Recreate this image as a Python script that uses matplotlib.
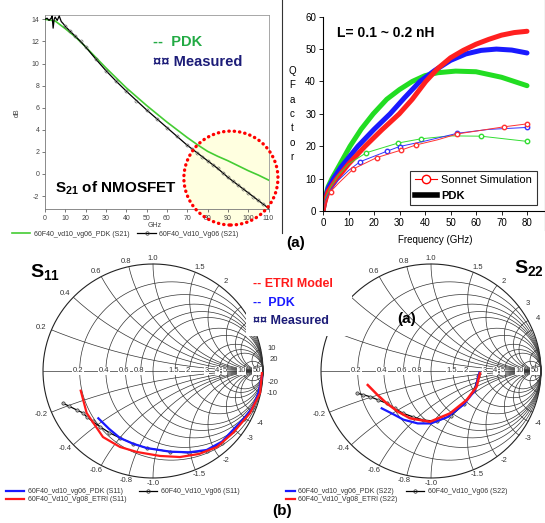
import numpy as np
import matplotlib
matplotlib.use('Agg')
import matplotlib.pyplot as plt
from matplotlib.lines import Line2D
from matplotlib.patches import Ellipse, Rectangle

plt.rcParams['font.family'] = ['Liberation Sans', 'DejaVu Sans']
plt.rcParams['mathtext.fontset'] = 'custom'
plt.rcParams['mathtext.rm'] = 'Liberation Sans'
plt.rcParams['mathtext.bf'] = 'Liberation Sans:bold'
plt.rcParams['axes.unicode_minus'] = False

W, H = 545, 523

# ---- S21 of NMOSFET (dB vs GHz) ----
s21_pdk_f = [0, 5, 10, 15, 20, 25, 30, 35, 40, 45, 50, 55, 60, 65, 70, 75, 80, 85, 90, 95, 100, 105, 110]
s21_pdk_db = [14.0, 13.85, 13.15, 12.4, 11.5, 10.55, 9.6, 8.7, 7.8, 7.0, 6.2, 5.45, 4.7, 4.0, 3.3, 2.65,
              2.05, 1.6, 1.2, 0.75, 0.3, -0.1, -0.55]
s21_meas_f = [0, 1, 2, 3, 3.5, 4, 4.5, 5, 6, 7, 8, 9, 10, 12.5, 15, 17.5, 20, 25, 30, 35, 40, 45, 50, 55,
              60, 65, 70, 72.5, 75, 77.5, 80, 82.5, 85, 87.5, 90, 92.5, 95, 97.5, 100, 102.5, 105, 107.5, 110]
s21_meas_db = [14.0, 14.1, 13.9, 14.1, 14.3, 13.2, 14.0, 14.2, 13.9, 14.3, 13.8, 13.6, 13.35, 12.9, 12.45,
               12.0, 11.5, 10.4, 9.35, 8.4, 7.5, 6.65, 5.8, 5.0, 4.2, 3.4, 2.6, 2.25, 1.9, 1.55, 1.2, 0.85,
               0.5, 0.1, -0.3, -0.65, -1.0, -1.35, -1.7, -2.05, -2.4, -2.75, -3.1]
s21_xticks = list(range(0, 111, 10))
s21_yticks = list(range(-2, 15, 2))

# ---- Q factor vs frequency ----
q_pdk_green_f = [0, 0.5, 1, 2, 3.5, 6, 10.6, 15, 19.7, 25, 30, 35, 40, 45, 52, 60, 70, 80]
q_pdk_green = [0, 2.5, 4.5, 7.5, 10, 13.5, 20, 25.3, 30, 34.5, 37.5, 40, 41.8, 42.7, 43.2, 43, 41.3, 38.7]
q_pdk_blue_f = [0, 0.5, 1, 2, 4.1, 7, 13.7, 20, 26.3, 32, 38, 44, 50, 56, 62, 68, 74, 80]
q_pdk_blue = [0, 2.3, 4, 7, 10, 13.5, 20, 25.2, 30, 35, 40, 43.5, 46.5, 48.5, 49.6, 50, 49.7, 48.8]
q_pdk_red_f = [0, 0.5, 1, 2, 5.4, 10, 16.5, 23, 29.9, 35, 40.3, 45, 50, 55, 60, 65, 70, 75, 80]
q_pdk_red = [0, 2, 3.5, 6, 10, 14.5, 20, 25, 30, 34.5, 40, 44, 47.3, 49.6, 51.5, 53, 54.3, 55.1, 55.5]

q_son_green_f = [0, 1, 3, 6, 10, 17, 29.5, 38.5, 50, 62, 80]
q_son_green = [0, 4, 7.5, 11, 14.5, 18, 21, 22.3, 23.2, 23.1, 21.5]
q_son_blue_f = [0, 1, 3, 6, 10, 14.5, 25.2, 30, 40, 52.7, 65, 80]
q_son_blue = [0, 3.5, 6.5, 9.5, 12.5, 15.2, 18.5, 19.9, 21.6, 24, 25.2, 25.8]
q_son_red_f = [0, 1, 3, 6, 11.9, 21.1, 30.6, 36.5, 45, 52.7, 71, 80]
q_son_red = [0, 3, 6, 8.5, 13, 16.5, 18.8, 20.4, 22, 23.8, 26, 26.9]
q_xticks = list(range(0, 91, 10))
q_yticks = list(range(0, 61, 10))

# ---- Smith chart traces (reflection coefficient, re / im) ----
s11_etri_re = [-0.657, -0.603, -0.455, -0.300, -0.145, 0.064, 0.245, 0.420, 0.582, 0.727, 0.882, 0.973, 0.99]
s11_etri_im = [-0.184, -0.393, -0.617, -0.710, -0.757, -0.794, -0.804, -0.775, -0.710, -0.579, -0.393, -0.206, -0.02]
s11_pdk_re = [-0.497, -0.40, -0.3, -0.18, -0.057, 0.155, 0.33, 0.488, 0.627, 0.727, 0.83, 0.91, 0.96, 0.99]
s11_pdk_im = [-0.442, -0.54, -0.626, -0.68, -0.72, -0.754, -0.76, -0.738, -0.66, -0.551, -0.44, -0.336, -0.2, -0.05]
s11_meas_re = [-0.82, -0.76, -0.694, -0.64, -0.603, -0.55, -0.482, -0.40, -0.3, -0.18, -0.057, 0.155, 0.33,
               0.488, 0.627, 0.727, 0.83, 0.91]
s11_meas_im = [-0.30, -0.33, -0.364, -0.39, -0.427, -0.47, -0.52, -0.575, -0.626, -0.68, -0.72, -0.754, -0.765,
               -0.745, -0.67, -0.56, -0.445, -0.335]

s22_etri_re = [-0.575, -0.49, -0.403, -0.30, -0.191, -0.009, 0.173, 0.324, 0.415, 0.445]
s22_etri_im = [-0.131, -0.22, -0.302, -0.38, -0.442, -0.474, -0.396, -0.271, -0.147, -0.022]
s22_pdk_re = [-0.448, -0.35, -0.25, -0.12, 0.0, 0.15, 0.30, 0.40, 0.44]
s22_pdk_im = [-0.349, -0.40, -0.455, -0.49, -0.49, -0.43, -0.31, -0.18, -0.015]
s22_meas_re = [-0.67, -0.62, -0.555, -0.48, -0.403, -0.33, -0.252, -0.16, -0.07, 0.05, 0.18, 0.30, 0.39, 0.43]
s22_meas_im = [-0.209, -0.22, -0.24, -0.27, -0.302, -0.35, -0.396, -0.43, -0.458, -0.47, -0.42, -0.31, -0.18, -0.05]

smith_r = [0.2, 0.4, 0.6, 0.8, 1, 1.5, 2, 3, 4, 5, 10, 20, 50]
smith_x = [0.2, 0.4, 0.6, 0.8, 1, 1.5, 2, 3, 4, 5, 10, 20, 50]
smith_r_labels = [0.2, 0.4, 0.6, 0.8, 1.5, 2, 3, 4, 5, 10, 50]
s11_x_labels = [0.2, 0.4, 0.6, 0.8, 1.0, 1.5, 2, 10, 20,
                -0.2, -0.4, -0.6, -0.8, -1.0, -1.5, -2, -3, -4, -10, -20]
s22_x_labels = [0.6, 0.8, 1.0, 1.5, 2, 3, 4,
                -0.2, -0.4, -0.6, -0.8, -1.0, -1.5, -2, -3, -4]

GREEN_TXT = '#22aa44'
NAVY = '#1c1c78'

fig = plt.figure(figsize=(W / 100, H / 100), dpi=100)
fig.patch.set_facecolor('white')


def add_ax(l, t, r, b):
    return fig.add_axes([l / W, 1 - b / H, (r - l) / W, (b - t) / H])


def ftext(x, y, s, **kw):
    return fig.text(x / W, 1 - y / H, s, **kw)


def fmt(v):
    if v in (1.0, -1.0):
        return '%.1f' % v
    return ('%g' % v)


# ================= S21 =================
ax1 = add_ax(45, 15, 268.5, 209)
ax1.set_xlim(0, 110)
ax1.set_ylim(-3.17, 14.39)
ax1.add_patch(Ellipse((91.5, -0.37), 46.3, 8.5, facecolor='#ffffe0', edgecolor='none', zorder=1, clip_on=False))
ax1.plot(s21_pdk_f, s21_pdk_db, color='#44cc33', lw=1.2, zorder=3)
ax1.plot(s21_meas_f, s21_meas_db, color='black', lw=0.9, marker='o', ms=2.2, mfc='none', mec='#555',
         mew=0.4, markevery=list(range(12, len(s21_meas_f))), zorder=4)
ring = Ellipse((91.5, -0.37), 46.3, 8.5, facecolor='none', edgecolor='red', lw=2.4, zorder=6, clip_on=False)
ring.set_linestyle((0, (0.1, 1.5)))
ring.set_capstyle('round')
ax1.add_patch(ring)
ax1.set_xticks(s21_xticks)
ax1.set_yticks(s21_yticks)
ax1.tick_params(labelsize=5, colors='#444', length=2, width=0.5, pad=2)
for side in ['top', 'right']:
    ax1.spines[side].set_color('#999')
for side in ['left', 'bottom']:
    ax1.spines[side].set_color('#777')
for sp in ax1.spines.values():
    sp.set_linewidth(0.6)
ftext(155, 226, 'GHz', fontsize=5, color='#444', ha='center', va='center')
ftext(17, 113, 'dB', fontsize=5, color='#444', ha='center', va='center', rotation=90)
ftext(153, 42, '--  PDK', fontsize=10.5, fontweight='bold', color=GREEN_TXT, va='center')
ftext(153, 62, '\u00a4\u00a4 Measured', fontsize=10.5, fontweight='bold', color=NAVY, va='center')
ftext(55, 188, r'$\mathbf{S_{21}}$ of NMOSFET', fontsize=11, fontweight='bold', color='black', va='center')

fig.legend([Line2D([], [], color='#44cc33', lw=1.2),
            Line2D([], [], color='black', lw=0.9, marker='o', ms=2.5, mfc='none', mec='#333', mew=0.5)],
           ['60F40_vd10_vg06_PDK (S21)', '60F40_Vd10_Vg06 (S21)'],
           loc='center left', bbox_to_anchor=(12 / W, 1 - 234 / H), ncol=2, frameon=False,
           fontsize=5, handlelength=2.6, handletextpad=0.5, columnspacing=1.2, borderaxespad=0,
           borderpad=0, labelcolor='#333')

# ================= Q factor =================
axq = add_ax(323, 16.7, 552.5, 211)
axq.set_xlim(0, 90)
axq.set_ylim(0, 60)
axq.plot(q_pdk_green_f, q_pdk_green, color='#22dd22', lw=3.6, solid_capstyle='round')
axq.plot(q_pdk_blue_f, q_pdk_blue, color='#1a1aff', lw=3.6, solid_capstyle='round')
axq.plot(q_pdk_red_f, q_pdk_red, color='#ff2020', lw=3.6, solid_capstyle='round')
axq.plot(q_son_green_f, q_son_green, color='#33dd33', lw=0.7, marker='o', ms=3.2, mfc='white',
         markevery=[5, 6, 7, 9, 10])
axq.plot(q_son_blue_f, q_son_blue, color='#3333ff', lw=0.7, marker='o', ms=3.2, mfc='white',
         markevery=[5, 6, 7, 9, 11])
axq.plot(q_son_red_f, q_son_red, color='#ff3333', lw=0.7, marker='o', ms=3.2, mfc='white',
         markevery=[2, 4, 5, 6, 7, 9, 10, 11])
axq.set_xticks(q_xticks)
axq.set_yticks(q_yticks)
axq.tick_params(labelsize=7, length=3, width=0.6, pad=2)
axq.spines['top'].set_visible(False)
for sp in axq.spines.values():
    sp.set_linewidth(0.8)
ftext(337, 33, 'L= 0.1 ~ 0.2 nH', fontsize=10, fontweight='bold', va='center')
ftext(292, 114, '\n'.join('QFactor'), fontsize=7, ha='center', va='center', linespacing=1.55)
ftext(435, 240, 'Frequency (GHz)', fontsize=7, ha='center', va='center')
leg = axq.legend([Line2D([], [], color='red', lw=0.8, marker='o', ms=6, mfc='white', mec='red'),
                  Line2D([], [], color='black', lw=4)],
                 ['Sonnet Simulation', 'PDK'], loc='lower left', bbox_to_anchor=(0.38, 0.031),
                 borderaxespad=0, fontsize=8, frameon=True, fancybox=False, edgecolor='black',
                 handlelength=2.0, handletextpad=0.4, labelspacing=0.5, borderpad=0.4)
leg.get_frame().set_linewidth(0.8)
leg.get_texts()[1].set_fontweight('bold')

fig.add_artist(Line2D([282 / W, 282 / W], [1, 1 - 233 / H], color='#333', lw=0.8))
fig.add_artist(Line2D([544.5 / W, 544.5 / W], [1, 1 - 230 / H], color='#333', lw=0.8))


# ================= Smith charts =================
def smith_grid(ax, x_labels):
    ax.set_xlim(-1, 1)
    ax.set_ylim(-1, 1)
    ax.axis('off')
    gc = '#333'
    th = np.linspace(0, 2 * np.pi, 500)
    ax.plot(np.cos(th), np.sin(th), color='#222', lw=0.8, clip_on=False)
    for r in smith_r:
        c, rad = r / (1 + r), 1 / (1 + r)
        ax.plot(c + rad * np.cos(th), rad * np.sin(th), color=gc, lw=0.5, clip_on=False)
    s = np.concatenate([np.linspace(0, 2, 120), np.geomspace(2, 5000, 200)])
    for x in smith_x:
        for sg in (1, -1):
            z = s + 1j * sg * x
            g = (z - 1) / (z + 1)
            ax.plot(g.real, g.imag, color=gc, lw=0.5, clip_on=False)
    ax.plot([-1, 1], [0, 0], color=gc, lw=0.5, clip_on=False)
    for r in smith_r_labels:
        ax.text((r - 1) / (r + 1) - 0.015, 0, fmt(r), fontsize=5.5, color='#333', ha='center', va='center',
                bbox=dict(fc='white', ec='none', pad=0.4), clip_on=False, zorder=5)
    for x in x_labels:
        g = (1j * x - 1) / (1j * x + 1)
        ax.text(g.real * 1.1, g.imag * 1.05, fmt(x), fontsize=5.5, color='#333', ha='center', va='center',
                clip_on=False)


ax11 = add_ax(43, 264, 263, 478)
smith_grid(ax11, s11_x_labels)
ax11.plot(s11_meas_re, s11_meas_im, color='black', lw=0.9, marker='o', ms=2.4, mfc='#aaa', mec='#222',
          mew=0.4, zorder=3, clip_on=False)
ax11.plot(s11_pdk_re, s11_pdk_im, color='#1a1aff', lw=1.6, zorder=4, clip_on=False)
ax11.plot(s11_etri_re, s11_etri_im, color='#ff1a1a', lw=1.6, zorder=5, clip_on=False)

ax22 = add_ax(321, 264, 541, 478)
smith_grid(ax22, s22_x_labels)
ax22.plot(s22_meas_re, s22_meas_im, color='black', lw=0.9, marker='o', ms=2.4, mfc='#aaa', mec='#222',
          mew=0.4, zorder=3, clip_on=False)
ax22.plot(s22_pdk_re, s22_pdk_im, color='#1a1aff', lw=1.6, zorder=4, clip_on=False)
ax22.plot(s22_etri_re, s22_etri_im, color='#ff1a1a', lw=1.8, zorder=5, clip_on=False)

fig.add_artist(Rectangle((246 / W, 1 - 336 / H), (352 - 246) / W, (336 - 274) / H,
                         transform=fig.transFigure, fc='white', ec='none', zorder=1))

ftext(30, 272, r'$\mathbf{S_{11}}$', fontsize=14, va='center')
ftext(514, 268, r'$\mathbf{S_{22}}$', fontsize=14, va='center')
ftext(253, 284, '-- ETRI Model', fontsize=9, fontweight='bold', color='#ff1a1a', va='center')
ftext(253, 303, '--  PDK', fontsize=9, fontweight='bold', color='#1a1aff', va='center')
ftext(253, 321, '\u00a4\u00a4 Measured', fontsize=9, fontweight='bold', color=NAVY, va='center')
ftext(296, 243, '(a)', fontsize=11, fontweight='bold', ha='center', va='center')
ftext(407, 319, '(a)', fontsize=11, fontweight='bold', ha='center', va='center')
ftext(282, 511, '(b)', fontsize=11, fontweight='bold', ha='center', va='center')

for x0, xr, tag in [(6, 139, 'S11'), (286, 406, 'S22')]:
    fig.legend([Line2D([], [], color='#1a1aff', lw=1.6), Line2D([], [], color='#ff1a1a', lw=1.6)],
               ['60F40_vd10_vg06_PDK (%s)' % tag, '60F40_Vd10_Vg08_ETRI (%s)' % tag],
               loc='upper left', bbox_to_anchor=(x0 / W, 1 - 488 / H), frameon=False, fontsize=5,
               handlelength=2.6 if tag == 'S11' else 1.3, handletextpad=0.5, labelspacing=0.15,
               borderaxespad=0, borderpad=0, labelcolor='#333')
    fig.legend([Line2D([], [], color='black', lw=0.9, marker='o', ms=2.5, mfc='none', mec='#222', mew=0.5)],
               ['60F40_Vd10_Vg06 (%s)' % tag], loc='upper left', bbox_to_anchor=(xr / W, 1 - 488 / H),
               frameon=False, fontsize=5, handlelength=2.6, handletextpad=0.5, borderaxespad=0,
               borderpad=0, labelcolor='#333')

fig.savefig('out.png', dpi=100)
